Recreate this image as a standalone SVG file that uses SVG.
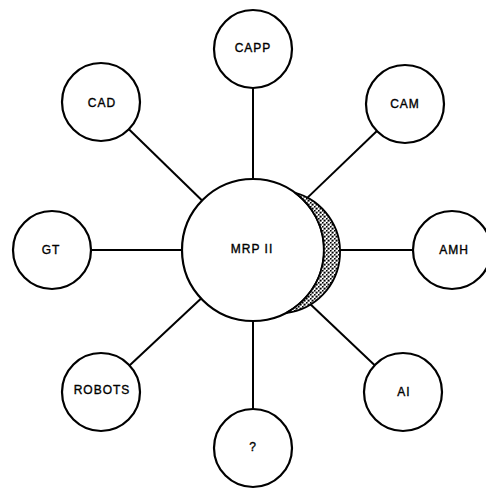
<svg xmlns="http://www.w3.org/2000/svg" width="486" height="491" viewBox="0 0 486 491">
<defs>
<style>
.node circle{fill:#fff;stroke:#000;stroke-width:2.2}
.lbl{font-family:"Liberation Sans",Arial,sans-serif;font-size:12px;letter-spacing:1px;text-anchor:middle;dominant-baseline:central;fill:#000;stroke:#000;stroke-width:0.35}
.conn line{stroke:#000;stroke-width:2}
</style>
<pattern id="stip" width="4" height="4" patternUnits="userSpaceOnUse">
<rect width="4" height="4" fill="#fff"/>
<rect x="0" y="0" width="1.6" height="1.6" fill="#000"/>
<rect x="2" y="2" width="1.6" height="1.6" fill="#000"/>
<rect x="3" y="0.5" width="1" height="1" fill="#333"/>
<rect x="0.5" y="3" width="1" height="1" fill="#555"/>
</pattern>
</defs>
<rect width="486" height="491" fill="#fff"/>
<g id="connectors" class="conn">
<line x1="253" y1="88" x2="253" y2="179"/>
<line x1="128.9" y1="129.2" x2="202.1" y2="200.5"/>
<line x1="307" y1="198.1" x2="376.9" y2="131"/>
<line x1="91" y1="250" x2="182" y2="250"/>
<line x1="335" y1="250" x2="413" y2="250"/>
<line x1="129.5" y1="365.4" x2="201.1" y2="298.5"/>
<line x1="307.5" y1="301.5" x2="374.7" y2="365.2"/>
<line x1="253" y1="321" x2="253" y2="409"/>
</g>
<g id="mrp2" class="node">
<circle cx="253" cy="250" r="71"/>
<path d="M294.7 192.6 A71 71 0 0 1 286 313 A61.5 61.5 0 0 0 294.7 192.6 Z" fill="url(#stip)" stroke="#000" stroke-width="1.8"/>
<text class="lbl" x="252" y="249">MRP II</text>
</g>
<g id="capp" class="node"><circle cx="253" cy="49" r="39"/><text class="lbl" x="253" y="48">CAPP</text></g>
<g id="cad" class="node"><circle cx="101" cy="102" r="39"/><text class="lbl" x="102" y="103">CAD</text></g>
<g id="cam" class="node"><circle cx="405" cy="104" r="39"/><text class="lbl" x="405" y="104">CAM</text></g>
<g id="gt" class="node"><circle cx="52" cy="250" r="39"/><text class="lbl" x="51" y="250">GT</text></g>
<g id="amh" class="node"><circle cx="452" cy="250" r="39"/><text class="lbl" x="454" y="250">AMH</text></g>
<g id="robots" class="node"><circle cx="101" cy="392" r="39"/><text class="lbl" x="102" y="390">ROBOTS</text></g>
<g id="ai" class="node"><circle cx="403" cy="392" r="39"/><text class="lbl" x="404" y="392">AI</text></g>
<g id="unknown" class="node"><circle cx="253" cy="448" r="39"/><text class="lbl" x="253" y="447">?</text></g>
</svg>
